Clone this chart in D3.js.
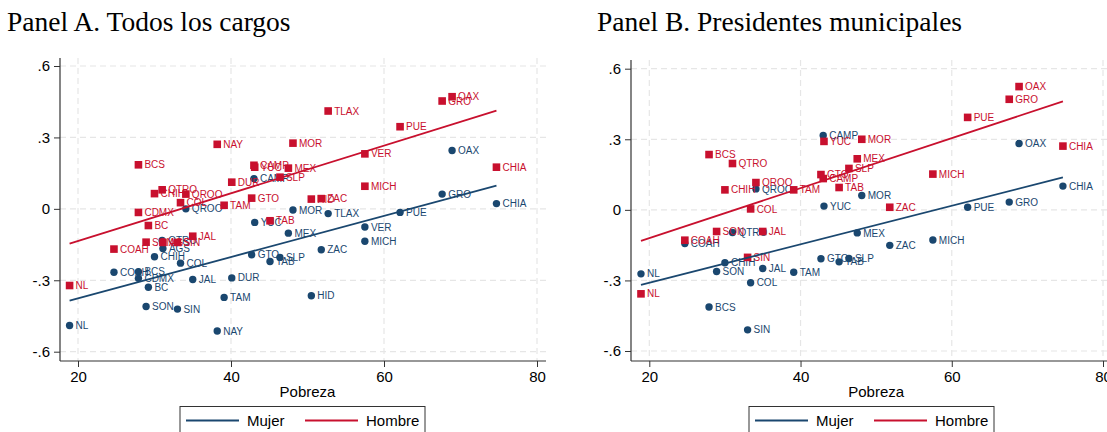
<!DOCTYPE html>
<html>
<head>
<meta charset="utf-8">
<script src="https://cdn.jsdelivr.net/npm/d3@7"></script>
<style>
  html, body { margin: 0; padding: 0; background: #fff; }
  svg { display: block; }
</style>
</head>
<body>
<svg id="chart" width="1107" height="432"></svg>
<script>
// Poverty rate (%) by state
const estados = ["AGS","BC","BCS","CAMP","COAH","COL","CHIA","CHIH","CDMX","DUR","GTO","GRO","HID","JAL","MEX","MICH",
                 "MOR","NAY","NL","OAX","PUE","QTRO","QROO","SLP","SIN","SON","TAB","TAM","TLAX","VER","YUC","ZAC"];
const pobreza = [31.1,29.2,27.9,43.0,24.7,33.4,74.7,30.0,27.9,40.1,42.7,67.6,50.5,35.0,47.5,57.5,
                 48.1,38.2,18.9,68.9,62.1,31.0,34.1,46.4,33.0,28.9,45.1,39.1,52.7,57.5,43.1,51.8];

// Panel A: all offices
const mujerA  = [-0.167,-0.329,-0.264,0.127,-0.266,-0.228,0.022,-0.201,-0.292,-0.290,-0.193,0.062,-0.365,-0.297,-0.102,-0.136,
                 -0.005,-0.513,-0.490,0.245,-0.015,-0.133,0.000,-0.204,-0.421,-0.410,-0.221,-0.372,-0.020,-0.076,-0.057,-0.172];
const hombreA = [-0.141,-0.070,0.185,0.183,-0.169,0.026,0.175,0.064,-0.015,0.112,0.045,0.453,0.041,-0.115,0.171,0.095,
                 0.276,0.271,-0.322,0.471,0.345,0.080,0.062,0.133,-0.141,-0.140,-0.050,0.015,0.411,0.231,0.175,0.043];
const fitMujerA  = [[18.9,-0.385],[74.7,0.098]];
const fitHombreA = [[18.9,-0.146],[74.7,0.413]];

// Panel B: municipal presidents
const estadosB = ["BCS","CAMP","COAH","COL","CHIA","CHIH","GTO","GRO","JAL","MEX","MICH","MOR",
                  "NL","OAX","PUE","QTRO","QROO","SLP","SIN","SON","TAB","TAM","YUC","ZAC"];
const mujerB  = [-0.413,0.316,-0.143,-0.310,0.101,-0.225,-0.208,0.033,-0.249,-0.098,-0.128,0.061,
                 -0.272,0.282,0.011,-0.096,0.089,-0.207,-0.510,-0.262,-0.221,-0.265,0.016,-0.151];
const hombreB = [0.235,0.133,-0.129,0.004,0.271,0.085,0.150,0.470,-0.092,0.217,0.152,0.300,
                 -0.357,0.524,0.393,0.197,0.116,0.176,-0.202,-0.092,0.095,0.085,0.291,0.011];
const fitMujerB  = [[18.9,-0.319],[74.7,0.138]];
const fitHombreB = [[18.9,-0.132],[74.7,0.461]];

const xTicks = [20, 40, 60, 80];
const yTicks = [-0.6, -0.3, 0, 0.3, 0.6];
const yTickLabels = ["-.6", "-.3", "0", ".3", ".6"];
const serieNombres = ["Mujer", "Hombre"];

const NAVY = "#1a476f";
const RED = "#c8102e";
const svg = d3.select("#chart");

function panel(cfg) {
  const g = svg.append("g");
  const x = d3.scaleLinear().domain([20, 80]).range(cfg.xRange);
  const y = d3.scaleLinear().domain([-0.6, 0.6]).range(cfg.yRange);

  // title
  svg.append("text")
    .attr("x", cfg.titleX).attr("y", 31)
    .attr("font-family", "'Liberation Serif','Times New Roman',serif")
    .attr("font-size", 27.5).attr("fill", "#000")
    .text(cfg.title);

  // grid
  const grid = g.append("g").attr("stroke", "#e6e6e6").attr("stroke-width", 1.2)
    .attr("stroke-dasharray", "6,4");
  yTicks.forEach(t => grid.append("line")
    .attr("x1", cfg.left).attr("x2", cfg.right).attr("y1", y(t)).attr("y2", y(t)));
  xTicks.forEach(t => grid.append("line")
    .attr("x1", x(t)).attr("x2", x(t)).attr("y1", cfg.top).attr("y2", cfg.bottom));

  // axes
  const yAxis = d3.axisLeft(y).tickValues(yTicks)
    .tickFormat((d, i) => yTickLabels[i]).tickSize(6).tickSizeOuter(0).tickPadding(4);
  const ya = g.append("g").attr("transform", `translate(${cfg.left},0)`).call(yAxis);
  const xAxis = d3.axisBottom(x).tickValues(xTicks).tickSize(6).tickSizeOuter(0).tickPadding(4);
  const xa = g.append("g").attr("transform", `translate(0,${cfg.bottom})`).call(xAxis);
  [ya, xa].forEach(a => {
    a.select(".domain").remove();
    a.selectAll("line").attr("stroke", "#333");
    a.selectAll("text").attr("font-family", "'Liberation Sans',Arial,sans-serif")
      .attr("font-size", 15).attr("fill", "#000");
  });
  g.append("line").attr("x1", cfg.left).attr("x2", cfg.left)
    .attr("y1", cfg.top).attr("y2", cfg.bottom).attr("stroke", "#333").attr("stroke-width", 1.2);
  g.append("line").attr("x1", cfg.left).attr("x2", cfg.right)
    .attr("y1", cfg.bottom).attr("y2", cfg.bottom).attr("stroke", "#333").attr("stroke-width", 1.2);

  // axis title
  g.append("text").attr("x", (x(20) + x(80)) / 2).attr("y", 397)
    .attr("text-anchor", "middle")
    .attr("font-family", "'Liberation Sans',Arial,sans-serif").attr("font-size", 15)
    .text("Pobreza");

  const pov = name => pobreza[estados.indexOf(name)];
  const labelFont = "'Liberation Sans',Arial,sans-serif";

  // Mujer: circles
  const m = g.append("g");
  cfg.names.forEach((n, i) => {
    const cx = x(pov(n)), cy = y(cfg.mujer[i]);
    m.append("circle").attr("cx", cx).attr("cy", cy).attr("r", 3.7).attr("fill", NAVY);
    m.append("text").attr("x", cx + 6).attr("y", cy + 3.6)
      .attr("font-family", labelFont).attr("font-size", 10).attr("fill", NAVY).text(n);
  });
  // Hombre: squares
  const h = g.append("g");
  cfg.names.forEach((n, i) => {
    const cx = x(pov(n)), cy = y(cfg.hombre[i]);
    h.append("rect").attr("x", cx - 3.8).attr("y", cy - 3.8).attr("width", 7.6).attr("height", 7.6)
      .attr("fill", RED);
    h.append("text").attr("x", cx + 6).attr("y", cy + 3.6)
      .attr("font-family", labelFont).attr("font-size", 10).attr("fill", RED).text(n);
  });

  // fitted lines
  const line = d3.line().x(d => x(d[0])).y(d => y(d[1]));
  g.append("path").datum(cfg.fitMujer).attr("d", line)
    .attr("fill", "none").attr("stroke", NAVY).attr("stroke-width", 1.8);
  g.append("path").datum(cfg.fitHombre).attr("d", line)
    .attr("fill", "none").attr("stroke", RED).attr("stroke-width", 1.8);

  // legend
  const lg = g.append("g");
  lg.append("rect").attr("x", cfg.legendX).attr("y", 406.5).attr("width", 245).attr("height", 40)
    .attr("fill", "#fff").attr("stroke", "#333").attr("stroke-width", 1);
  const cols = [NAVY, RED];
  const offs = [6, 125];
  serieNombres.forEach((s, i) => {
    lg.append("line").attr("x1", cfg.legendX + offs[i]).attr("x2", cfg.legendX + offs[i] + 53)
      .attr("y1", 420.5).attr("y2", 420.5).attr("stroke", cols[i]).attr("stroke-width", 1.8);
    lg.append("text").attr("x", cfg.legendX + offs[i] + 61).attr("y", 426)
      .attr("font-family", labelFont).attr("font-size", 15).attr("fill", "#000").text(s);
  });
}

panel({
  title: "Panel A. Todos los cargos", titleX: 7,
  xRange: [78, 537], yRange: [351.7, 66],
  left: 60, right: 546, top: 58, bottom: 361,
  names: estados, mujer: mujerA, hombre: hombreA,
  fitMujer: fitMujerA, fitHombre: fitHombreA, legendX: 180
});

panel({
  title: "Panel B. Presidentes municipales", titleX: 597,
  xRange: [649.3, 1103], yRange: [351, 68.7],
  left: 631, right: 1115, top: 60, bottom: 361,
  names: estadosB, mujer: mujerB, hombre: hombreB,
  fitMujer: fitMujerB, fitHombre: fitHombreB, legendX: 749
});
</script>
</body>
</html>
